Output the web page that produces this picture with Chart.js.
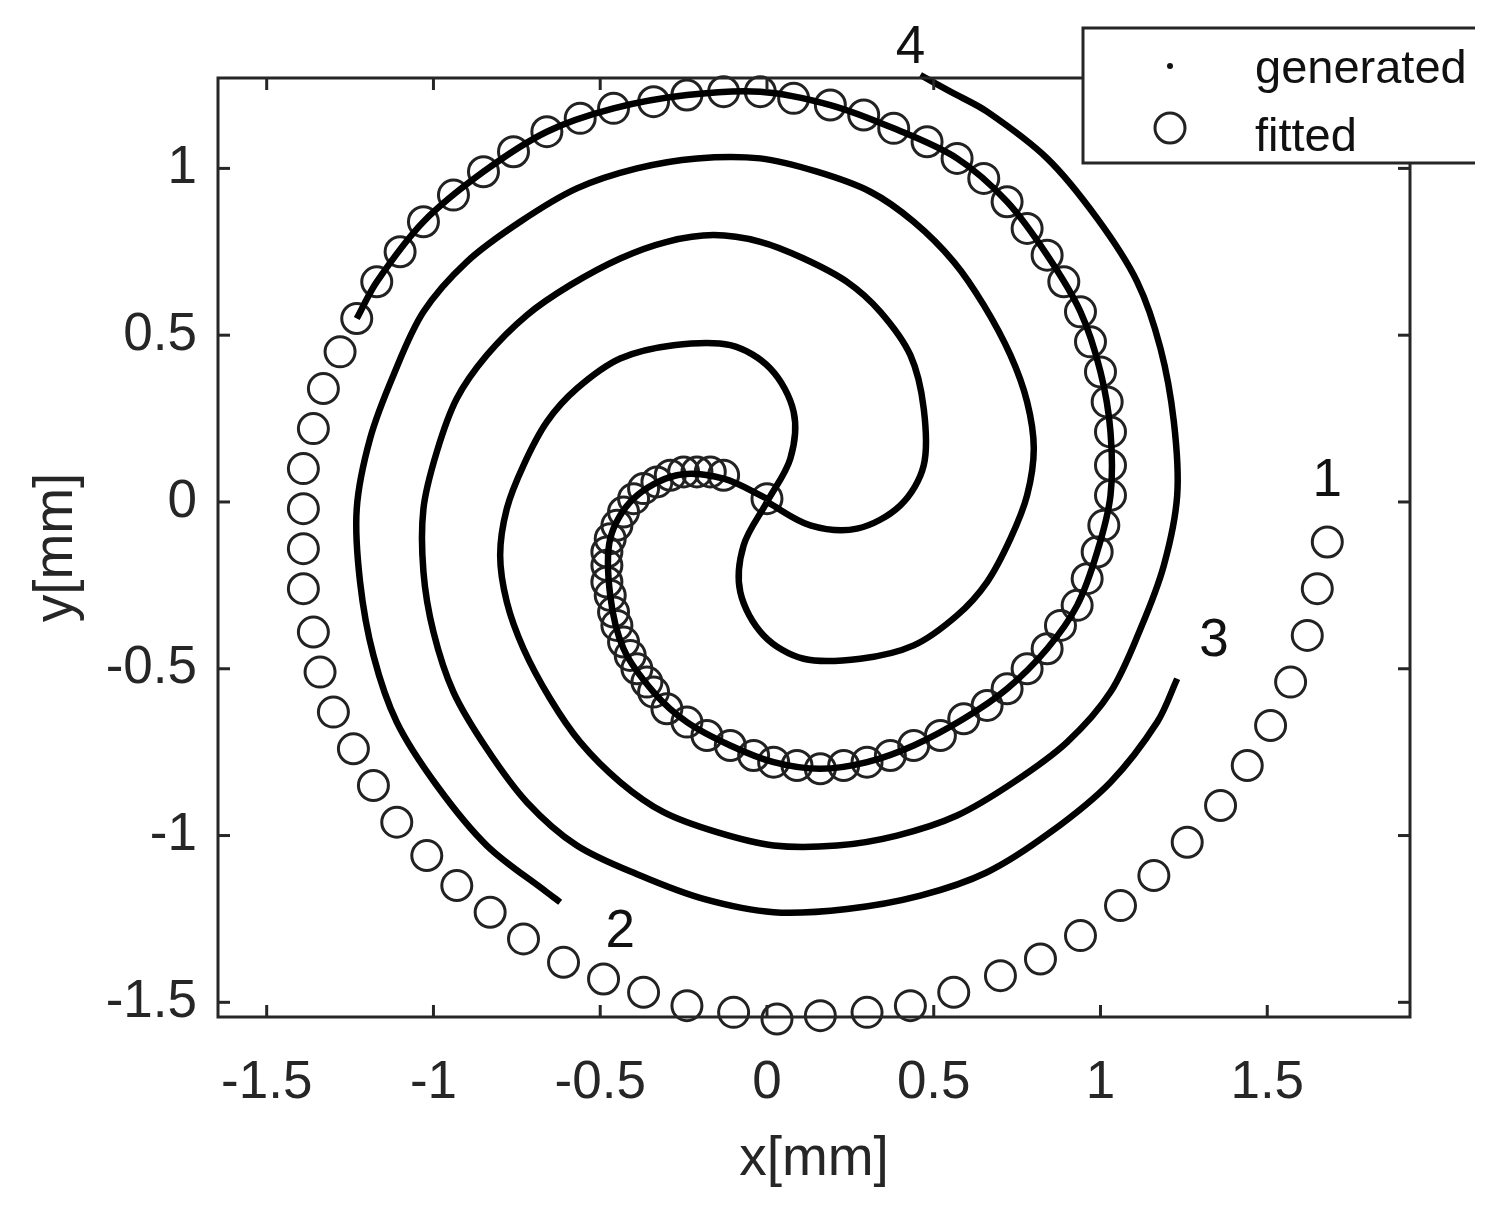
<!DOCTYPE html>
<html>
<head>
<meta charset="utf-8">
<script src="https://cdn.jsdelivr.net/npm/chart.js@4"></script>
<style>
  body { margin: 0; background: #fff; }
</style>
</head>
<body>
<canvas id="spiral" width="1499" height="1211"></canvas>
<script>
// generated arms (x, y in mm)
const arm1 = [
  [0.00, 0.01], [-0.13, 0.07], [-0.27, 0.08], [-0.40, 0.01], [-0.47, -0.11], [-0.47, -0.28],
  [-0.43, -0.44], [-0.34, -0.57], [-0.24, -0.66], [-0.11, -0.73], [0.02, -0.78], [0.16, -0.80],
  [0.30, -0.78], [0.44, -0.73], [0.59, -0.65], [0.72, -0.56], [0.84, -0.44], [0.93, -0.31],
  [0.99, -0.15], [1.03, 0.02], [1.03, 0.21], [1.00, 0.39], [0.94, 0.57], [0.84, 0.74],
  [0.72, 0.90], [0.57, 1.03], [0.38, 1.12], [0.19, 1.19], [-0.02, 1.23], [-0.24, 1.22],
  [-0.46, 1.18], [-0.66, 1.11], [-0.85, 0.99], [-1.03, 0.84], [-1.17, 0.66], [-1.23, 0.55]
]
const arm2 = [
  [0.00, 0.00], [-0.07, -0.13], [-0.08, -0.27], [-0.01, -0.40], [0.11, -0.47], [0.28, -0.47],
  [0.44, -0.43], [0.57, -0.34], [0.66, -0.24], [0.73, -0.11], [0.78, 0.02], [0.80, 0.16],
  [0.78, 0.30], [0.73, 0.44], [0.65, 0.59], [0.56, 0.72], [0.44, 0.84], [0.31, 0.93],
  [0.15, 0.99], [-0.02, 1.03], [-0.21, 1.03], [-0.39, 1.00], [-0.57, 0.94], [-0.74, 0.84],
  [-0.90, 0.72], [-1.03, 0.57], [-1.12, 0.38], [-1.19, 0.19], [-1.23, -0.02], [-1.22, -0.24],
  [-1.18, -0.46], [-1.11, -0.66], [-0.99, -0.85], [-0.84, -1.03], [-0.66, -1.17], [-0.62, -1.20]
]
const arm3 = [
  [0.00, 0.00], [0.13, -0.07], [0.27, -0.08], [0.40, -0.01], [0.47, 0.11], [0.47, 0.28],
  [0.43, 0.44], [0.34, 0.57], [0.24, 0.66], [0.11, 0.73], [-0.02, 0.78], [-0.16, 0.80],
  [-0.30, 0.78], [-0.44, 0.73], [-0.59, 0.65], [-0.72, 0.56], [-0.84, 0.44], [-0.93, 0.31],
  [-0.99, 0.15], [-1.03, -0.02], [-1.03, -0.21], [-1.00, -0.39], [-0.94, -0.57], [-0.84, -0.74],
  [-0.72, -0.90], [-0.57, -1.03], [-0.38, -1.12], [-0.19, -1.19], [0.02, -1.23], [0.24, -1.22],
  [0.46, -1.18], [0.66, -1.11], [0.85, -0.99], [1.03, -0.84], [1.17, -0.66], [1.23, -0.53]
]
const arm4 = [
  [0.00, 0.00], [0.07, 0.13], [0.08, 0.27], [0.01, 0.40], [-0.11, 0.47], [-0.28, 0.47],
  [-0.44, 0.43], [-0.57, 0.34], [-0.66, 0.24], [-0.73, 0.11], [-0.78, -0.02], [-0.80, -0.16],
  [-0.78, -0.30], [-0.73, -0.44], [-0.65, -0.59], [-0.56, -0.72], [-0.44, -0.84], [-0.31, -0.93],
  [-0.15, -0.99], [0.02, -1.03], [0.21, -1.03], [0.39, -1.00], [0.57, -0.94], [0.74, -0.84],
  [0.90, -0.72], [1.03, -0.57], [1.12, -0.38], [1.19, -0.19], [1.23, 0.02], [1.22, 0.24],
  [1.18, 0.46], [1.11, 0.66], [0.99, 0.85], [0.84, 1.03], [0.66, 1.17], [0.55, 1.23], [0.46, 1.28]
]

// fitted circles
const fitted = [
  [0.00, 0.01], [-0.13, 0.08], [-0.17, 0.09], [-0.21, 0.09], [-0.25, 0.09], [-0.29, 0.08],
  [-0.33, 0.06], [-0.37, 0.04], [-0.40, 0.01], [-0.43, -0.03], [-0.45, -0.07], [-0.47, -0.11],
  [-0.48, -0.15], [-0.48, -0.19], [-0.48, -0.24], [-0.47, -0.28], [-0.46, -0.33], [-0.45, -0.37],
  [-0.43, -0.42], [-0.41, -0.46], [-0.39, -0.50], [-0.36, -0.54], [-0.34, -0.57], [-0.30, -0.62],
  [-0.24, -0.66], [-0.18, -0.70], [-0.11, -0.73], [-0.04, -0.76], [0.02, -0.78], [0.09, -0.79],
  [0.16, -0.80], [0.23, -0.79], [0.30, -0.78], [0.37, -0.76], [0.44, -0.73], [0.52, -0.70],
  [0.59, -0.65], [0.66, -0.61], [0.72, -0.56], [0.78, -0.50], [0.84, -0.44], [0.88, -0.37],
  [0.93, -0.31], [0.96, -0.23], [0.99, -0.15], [1.01, -0.07], [1.03, 0.02], [1.03, 0.11],
  [1.03, 0.21], [1.02, 0.30], [1.00, 0.39], [0.97, 0.48], [0.94, 0.57], [0.89, 0.66],
  [0.84, 0.74], [0.78, 0.82], [0.72, 0.90], [0.65, 0.97], [0.57, 1.03], [0.48, 1.08],
  [0.38, 1.12], [0.29, 1.16], [0.19, 1.19], [0.08, 1.21], [-0.02, 1.23], [-0.13, 1.23],
  [-0.24, 1.22], [-0.34, 1.20], [-0.46, 1.18], [-0.56, 1.15], [-0.66, 1.11], [-0.76, 1.05],
  [-0.85, 0.99], [-0.94, 0.92], [-1.03, 0.84], [-1.10, 0.75], [-1.17, 0.66], [-1.23, 0.55],
  [-1.28, 0.45], [-1.33, 0.34], [-1.36, 0.22], [-1.39, 0.10], [-1.39, -0.02], [-1.39, -0.14],
  [-1.39, -0.26], [-1.36, -0.39], [-1.34, -0.51], [-1.30, -0.63], [-1.24, -0.74], [-1.18, -0.85],
  [-1.11, -0.96], [-1.02, -1.06], [-0.93, -1.15], [-0.83, -1.23], [-0.73, -1.31], [-0.61, -1.38],
  [-0.49, -1.43], [-0.37, -1.47], [-0.24, -1.51], [-0.10, -1.53], [0.03, -1.55], [0.16, -1.54],
  [0.30, -1.53], [0.43, -1.51], [0.56, -1.47], [0.70, -1.42], [0.82, -1.37], [0.94, -1.30],
  [1.06, -1.21], [1.16, -1.12], [1.26, -1.02], [1.36, -0.91], [1.44, -0.79], [1.51, -0.67],
  [1.57, -0.54], [1.62, -0.40], [1.65, -0.26], [1.68, -0.12]
]

// arm numbers written next to the spiral ends
const armLabels = [
  { text: '1', x: 1.68, y: 0.07 },
  { text: '2', x: -0.44, y: -1.28 },
  { text: '3', x: 1.34, y: -0.41 },
  { text: '4', x: 0.43, y: 1.37 }
]

const legendItems = ['generated', 'fitted']
const xRange = [-1.646, 1.928]
const yRange = [-1.544, 1.271]
const tickStep = 0.5

const font = '"Liberation Sans", Arial, sans-serif'
const axisColor = '#262626'

const toPoints = (arr) => arr.map(([x, y]) => ({ x, y }))

const armDataset = (arr, label) => ({
  label: label,
  data: toPoints(arr),
  showLine: true,
  borderColor: '#000',
  borderWidth: 6.5,
  pointRadius: 0,
  tension: 0.33,
  fill: false,
  clip: false,
})

const frame = {
  id: 'frame',
  afterDatasetsDraw(chart) {
    const { ctx, chartArea: a, scales: { x, y } } = chart
    const line = (x1, y1, x2, y2) => {
      ctx.beginPath()
      ctx.moveTo(x1, y1)
      ctx.lineTo(x2, y2)
      ctx.stroke()
    }
    ctx.save()
    ctx.strokeStyle = axisColor
    ctx.lineWidth = 3
    ctx.strokeRect(a.left, a.top, a.right - a.left, a.bottom - a.top)
    x.ticks.forEach((t) => {
      const px = x.getPixelForValue(t.value)
      line(px, a.bottom, px, a.bottom - 12)
      line(px, a.top, px, a.top + 12)
    })
    y.ticks.forEach((t) => {
      const py = y.getPixelForValue(t.value)
      line(a.left, py, a.left + 12, py)
      line(a.right, py, a.right - 12, py)
    })
    ctx.restore()
  },
  afterDraw(chart) {
    const { ctx, scales: { x, y } } = chart
    ctx.save()
    // arm numbers
    ctx.fillStyle = '#111'
    ctx.font = '53px ' + font
    ctx.textAlign = 'center'
    ctx.textBaseline = 'middle'
    armLabels.forEach((l) => {
      ctx.fillText(l.text, x.getPixelForValue(l.x), y.getPixelForValue(l.y) + 3)
    })

    // legend box in the top right corner
    const box = { left: 1083, top: 28, right: 1475, bottom: 163 }
    ctx.fillStyle = '#fff'
    ctx.fillRect(box.left, box.top, box.right - box.left, box.bottom - box.top)
    ctx.strokeStyle = axisColor
    ctx.lineWidth = 3
    ctx.beginPath()
    ctx.moveTo(box.right, box.top)
    ctx.lineTo(box.left, box.top)
    ctx.lineTo(box.left, box.bottom)
    ctx.lineTo(box.right, box.bottom)
    ctx.stroke()

    ctx.fillStyle = '#111'
    ctx.beginPath()
    ctx.arc(1170, 66, 3, 0, Math.PI * 2)
    ctx.fill()
    ctx.strokeStyle = '#222'
    ctx.lineWidth = 3
    ctx.beginPath()
    ctx.arc(1170, 128, 15, 0, Math.PI * 2)
    ctx.stroke()

    ctx.font = '47px ' + font
    ctx.textAlign = 'left'
    ctx.textBaseline = 'alphabetic'
    ctx.fillText(legendItems[0], 1255, 83)
    ctx.fillText(legendItems[1], 1255, 151)
    ctx.restore()
  },
}

const tickLabel = (v) => String(Math.round(v * 10) / 10)

new Chart(document.getElementById('spiral'), {
  type: 'scatter',
  data: {
    datasets: [
      armDataset(arm1, legendItems[0]),
      armDataset(arm2, legendItems[0]),
      armDataset(arm3, legendItems[0]),
      armDataset(arm4, legendItems[0]),
      {
        label: legendItems[1],
        data: toPoints(fitted),
        showLine: false,
        pointStyle: 'circle',
        pointRadius: 15,
        pointBorderWidth: 3,
        pointBorderColor: '#222',
        pointBackgroundColor: 'rgba(0,0,0,0)',
        clip: false,
      },
    ],
  },
  plugins: [frame],
  options: {
    responsive: false,
    devicePixelRatio: 1,
    animation: false,
    events: [],
    layout: { padding: { left: 0, top: 78, right: 89, bottom: 0 } },
    elements: { line: { capBezierPoints: false } },
    plugins: { legend: { display: false }, tooltip: { enabled: false } },
    scales: {
      x: {
        type: 'linear',
        min: xRange[0],
        max: xRange[1],
        afterFit(scale) { scale.height = 194 },
        grid: { display: false, drawTicks: false },
        border: { display: false },
        ticks: {
          stepSize: tickStep,
          includeBounds: false,
          padding: 35,
          color: axisColor,
          font: { family: font, size: 53 },
          callback: tickLabel,
        },
        title: {
          display: true,
          text: 'x[mm]',
          color: axisColor,
          font: { family: font, size: 55 },
          padding: { bottom: 18 },
        },
      },
      y: {
        type: 'linear',
        min: yRange[0],
        max: yRange[1],
        afterFit(scale) { scale.width = 218 },
        grid: { display: false, drawTicks: false },
        border: { display: false },
        ticks: {
          stepSize: tickStep,
          includeBounds: false,
          padding: 21,
          color: axisColor,
          font: { family: font, size: 53 },
          callback: tickLabel,
        },
        title: {
          display: true,
          text: 'y[mm]',
          color: axisColor,
          font: { family: font, size: 55 },
          padding: { top: 24 },
        },
      },
    },
  },
})
</script>
</body>
</html>
